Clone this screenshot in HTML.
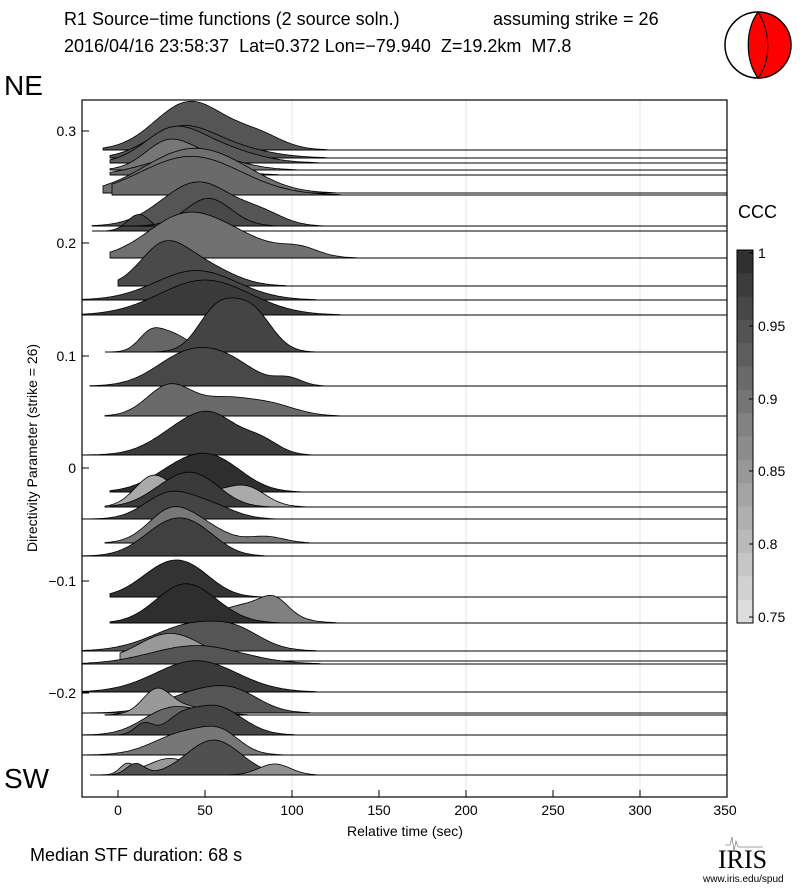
<!DOCTYPE html>
<html><head><meta charset="utf-8"><style>
body{margin:0;background:#fff;width:800px;height:887px;overflow:hidden;font-family:"Liberation Sans",sans-serif}
text{white-space:pre}
</style></head><body>
<svg id="s" width="800" height="887" xmlns="http://www.w3.org/2000/svg" font-family="Liberation Sans, sans-serif">
<text x="64" y="25" font-size="18">R1 Source−time functions (2 source soln.)</text>
<text x="493" y="25" font-size="18">assuming strike = 26</text>
<text x="64" y="52" font-size="18" xml:space="preserve">2016/04/16 23:58:37  Lat=0.372 Lon=−79.940  Z=19.2km  M7.8</text>
<text x="4" y="95" font-size="28">NE</text>
<text x="4" y="788" font-size="28">SW</text>
<g stroke="#e6e6e6" stroke-width="1"><line x1="292" y1="100" x2="292" y2="797"/><line x1="466" y1="100" x2="466" y2="797"/><line x1="640" y1="100" x2="640" y2="797"/></g>
<g id="tr"></g>
<rect x="82" y="100" width="645" height="697" fill="none" stroke="#000" stroke-width="1.2"/>
<g stroke="#000" stroke-width="1">
<line x1="82" y1="131" x2="89" y2="131"/><line x1="82" y1="243" x2="89" y2="243"/><line x1="82" y1="356" x2="89" y2="356"/><line x1="82" y1="468" x2="89" y2="468"/><line x1="82" y1="581" x2="89" y2="581"/><line x1="82" y1="693" x2="89" y2="693"/>
<line x1="118" y1="797" x2="118" y2="790"/><line x1="205" y1="797" x2="205" y2="790"/><line x1="292" y1="797" x2="292" y2="790"/><line x1="379" y1="797" x2="379" y2="790"/><line x1="466" y1="797" x2="466" y2="790"/><line x1="553" y1="797" x2="553" y2="790"/><line x1="640" y1="797" x2="640" y2="790"/><line x1="727" y1="797" x2="727" y2="790"/>
</g>
<g font-size="14" text-anchor="end">
<text x="76" y="136">0.3</text><text x="76" y="248">0.2</text><text x="76" y="361">0.1</text><text x="76" y="473">0</text><text x="76" y="586">−0.1</text><text x="76" y="698">−0.2</text>
</g>
<g font-size="14" text-anchor="middle">
<text x="118" y="815">0</text><text x="205" y="815">50</text><text x="292" y="815">100</text><text x="379" y="815">150</text><text x="466" y="815">200</text><text x="553" y="815">250</text><text x="640" y="815">300</text><text x="725" y="815">350</text>
<text x="405" y="836">Relative time (sec)</text>
</g>
<text transform="translate(37,448) rotate(-90)" font-size="14" text-anchor="middle">Directivity Parameter (strike = 26)</text>
<text x="30" y="861" font-size="18">Median STF duration: 68 s</text>
<text x="738" y="218" font-size="18">CCC</text>
<g id="cb"></g>
<rect x="737" y="250" width="16" height="373" fill="none" stroke="#000"/>
<g font-size="14"><text x="758" y="258">1</text><text x="758" y="331">0.95</text><text x="758" y="404">0.9</text><text x="758" y="476">0.85</text><text x="758" y="549">0.8</text><text x="758" y="622">0.75</text></g>
<g stroke="#000"><line x1="749" y1="253" x2="753" y2="253"/><line x1="749" y1="326" x2="753" y2="326"/><line x1="749" y1="399" x2="753" y2="399"/><line x1="749" y1="471" x2="753" y2="471"/><line x1="749" y1="544" x2="753" y2="544"/><line x1="749" y1="617" x2="753" y2="617"/></g>
<circle cx="758" cy="45" r="33" fill="#fff" stroke="#000" stroke-width="1.5"/>
<path d="M758,12 A33,33 0 0 1 758,78 C745,60 745,30 758,12Z" fill="#f00" stroke="#000" stroke-width="1.2"/>
<path d="M758,12 C770,30 772,60 758,78" fill="none" stroke="#000" stroke-width="1"/>
<text x="718" y="868" font-size="26" font-family="Liberation Serif, serif">IRIS</text>
<text x="703" y="882" font-size="10">www.iris.edu/spud</text>
<path d="M725,845 l5,0 l2,-8 l2,14 l2,-10 l2,6 l25,0" fill="none" stroke="#888" stroke-width="0.8"/>
</svg>
<script>
var T=[
[150,103,'#555',[[38,30,14],[50,25,18],[82,10,10]]],
[158,110,'#505050',[[35,28,14],[60,12,18]]],
[163,110,'#5a5a5a',[[30,25,12],[50,20,18]]],
[170,110,'#777',[[28,25,10],[50,15,15]]],
[175,110,'#666',[[35,18,16]]],
[193,103,'#707070',[[40,45,20],[70,10,15]]],
[195,112,'#6a6a6a',[[42,42,22]]],
[226,92,'#555',[[38,32,14],[55,22,12],[82,14,10]]],
[231,92,'#444',[[12,18,5]]],
[226,110,'#484848',[[52,30,10]]],
[258,110,'#707070',[[35,32,16],[60,25,20],[105,8,8]]],
[286,118,'#4a4a4a',[[25,34,10],[45,25,14]]],
[300,82,'#444',[[45,32,18]]],
[315,82,'#3a3a3a',[[50,38,20]]],
[352,105,'#666',[[18,14,5],[30,20,8]]],
[352,118,'#444',[[55,32,8],[70,34,10],[80,20,8]]],
[386,90,'#484848',[[40,34,14],[65,20,12],[98,8,6]]],
[416,105,'#6a6a6a',[[30,34,10],[60,15,10],[85,14,12]]],
[455,82,'#3c3c3c',[[42,34,14],[58,20,10],[82,15,8]]],
[492,110,'#2e2e2e',[[40,30,14],[60,20,12]]],
[507,105,'#aaa',[[20,32,8],[55,16,14],[75,14,8]]],
[507,110,'#3a3a3a',[[35,28,12],[50,15,10]]],
[519,82,'#444',[[30,28,11],[55,12,10]]],
[543,105,'#777',[[30,34,10],[50,15,10],[85,7,8]]],
[556,82,'#404040',[[30,34,12],[48,15,10]]],
[597,110,'#333',[[28,32,12],[45,15,10]]],
[623,110,'#808080',[[75,20,14],[90,15,6]]],
[623,110,'#2e2e2e',[[35,32,12],[50,15,12]]],
[651,82,'#555',[[45,30,18],[70,10,10]]],
[661,120,'#999',[[30,30,14]]],
[664,82,'#555',[[45,20,20]]],
[692,82,'#3a3a3a',[[45,34,18]]],
[713,82,'#555',[[50,25,16],[70,10,10]]],
[715,105,'#999',[[22,22,6],[35,10,12]]],
[735,82,'#666',[[30,28,12],[55,14,10]]],
[735,110,'#444',[[55,32,12],[35,10,6],[15,12,4]]],
[755,82,'#777',[[40,25,14],[60,15,8]]],
[775,90,'#999',[[5,10,3],[30,18,10]]],
[775,90,'#505050',[[55,38,12],[10,12,4]]],
[775,150,'#909090',[[90,12,7]]]
];
var g='';
T.forEach(function(r){var y=r[0],x0=r[1],c=r[2],P=r[3];
 var pts=[],xe=x0;
 for(var x=x0;x<=727;x+=2){var t=(x-118)/1.74,h=0;P.forEach(function(p){var s=p[2]*1.3;h+=p[1]*0.92*Math.exp(-Math.pow((t-p[0])/s,2)/2)});if(h>0.5)xe=x;pts.push([x,y-h]);}
 var d='M'+x0+','+y;pts.forEach(function(p){if(p[0]<=xe+4)d+=' L'+p[0]+','+p[1].toFixed(1)});d+=' L'+(xe+4)+','+y+'Z';
 g+='<path d="'+d+'" fill="'+c+'" stroke="#000" stroke-width="0.8"/>';
 g+='<line x1="'+x0+'" y1="'+y+'" x2="727" y2="'+y+'" stroke="#000" stroke-width="1"/>';
});
document.getElementById('tr').innerHTML=g;
var cb='';for(var i=0;i<16;i++){var v=Math.round(0x30+i*(0xdd-0x30)/15);var h=v.toString(16);cb+='<rect x="737" y="'+(250+i*373/16)+'" width="16" height="'+(373/16+0.5)+'" fill="#'+h+h+h+'"/>';}
document.getElementById('cb').innerHTML=cb;
</script>
</body></html>
